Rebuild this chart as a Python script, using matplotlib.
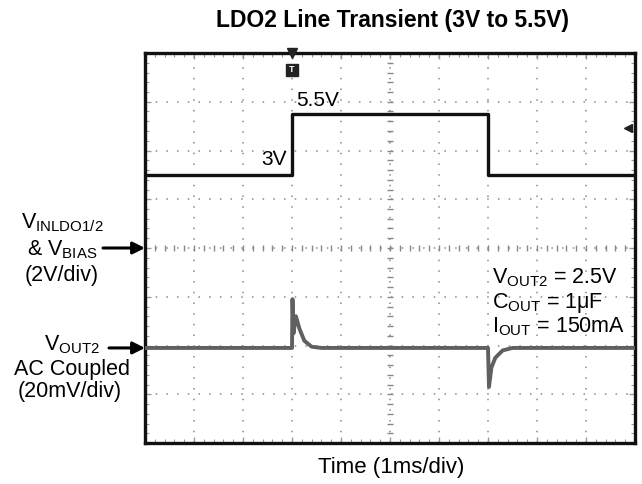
import matplotlib
matplotlib.use("Agg")
import matplotlib.pyplot as plt
import numpy as np

plt.rcParams['font.family'] = ['Liberation Sans', 'DejaVu Sans']
plt.rcParams['mathtext.fontset'] = 'custom'
plt.rcParams['mathtext.rm'] = 'Liberation Sans'
plt.rcParams['mathtext.it'] = 'Liberation Sans'
plt.rcParams['mathtext.bf'] = 'Liberation Sans:bold'

# ---- data (time in divisions of 1 ms) ----
vin_time = [0.0, 3.0, 3.0, 7.0, 7.0, 10.0]
vin_volts = [3.0, 3.0, 5.5, 5.5, 3.0, 3.0]          # 2 V/div, ground at centre
vout_time = [0.0, 3.0, 3.01, 3.03, 3.08, 3.15, 3.25, 3.4, 3.6,
             7.0, 7.02, 7.07, 7.15, 7.3, 7.5, 10.0]
vout_mv = [0.0, 0.0, 20.0, 6.0, 13.0, 8.0, 3.0, 0.5, 0.0,
           0.0, -16.0, -8.0, -4.0, -1.0, 0.0, 0.0]   # 20 mV/div, AC coupled
vin_ref_div = 4.0
vout_ref_div = 1.95
vin_scale = 2.0      # V/div
vout_scale = 20.0    # mV/div
trigger_time = 3.0
trigger_level_div = 6.46

W, H = 642, 484
fig = plt.figure(figsize=(W / 100, H / 100), dpi=100)
ax = fig.add_axes([145 / W, 1 - 443 / H, 490 / W, 390 / H])
ax.set_xlim(0, 10)
ax.set_ylim(0, 8)

# grid
for x in range(1, 10):
    ax.axvline(x, color='#8a8a8a', lw=1.1, ls=(0, (1, 6)), zorder=1)
for y in range(1, 8):
    ax.axhline(y, color='#8a8a8a', lw=1.1, ls=(0, (1, 6)), zorder=1)

# centre crosshair minor ticks
minor_y = np.arange(0, 8.01, 0.2)
minor_x = np.arange(0, 10.01, 0.2)
ax.plot(np.full_like(minor_y, 5.0), minor_y, ls='none', marker='_', ms=5,
        mew=1.0, color='#888888', zorder=1)
ax.plot(minor_x, np.full_like(minor_x, 4.0), ls='none', marker='|', ms=5,
        mew=1.0, color='#888888', zorder=1)

# frame ticks
ax.set_xticks(range(0, 11))
ax.set_yticks(range(0, 9))
ax.set_xticks(minor_x, minor=True)
ax.set_yticks(minor_y, minor=True)
ax.tick_params(which='both', direction='in', top=True, right=True,
               labelbottom=False, labelleft=False, color='#999999')
ax.tick_params(which='major', length=4, width=1)
ax.tick_params(which='minor', length=3, width=0.8)
for s in ax.spines.values():
    s.set_linewidth(2.4)
    s.set_color('#111111')

# traces
ax.plot(vin_time, [vin_ref_div + v / vin_scale for v in vin_volts],
        color='#111111', lw=2.4, zorder=3)
ax.plot(vout_time, [vout_ref_div + m / vout_scale for m in vout_mv],
        color='#606060', lw=2.8, zorder=3, solid_joinstyle='round')

# trigger markers
ax.plot([trigger_time], [8.0], marker='v', ms=7, color='#222222',
        clip_on=False, zorder=5)
ax.plot([trigger_time], [7.66], marker='s', ms=9, color='#222222', zorder=5)
ax.text(trigger_time, 7.66, 'T', color='white', fontsize=6.5,
        fontweight='bold', ha='center', va='center', zorder=6)
ax.plot([9.86], [trigger_level_div], marker='<', ms=6, color='#222222', zorder=5)

# level labels
ax.text(3.08, 7.02, '5.5V', fontsize=15, ha='left', va='center')
ax.text(2.9, 5.82, '3V', fontsize=15, ha='right', va='center')

# right annotations
fs = 15.5
ax.text(492 / W, 1 - 278 / H, r'V$_{\mathrm{OUT2}}$ = 2.5V', transform=fig.transFigure,
        fontsize=fs, ha='left', va='center')
ax.text(492 / W, 1 - 303 / H, r'C$_{\mathrm{OUT}}$ = 1μF', transform=fig.transFigure,
        fontsize=fs, ha='left', va='center')
ax.text(492 / W, 1 - 327 / H, r'I$_{\mathrm{OUT}}$ = 150mA', transform=fig.transFigure,
        fontsize=fs, ha='left', va='center')

# left labels
fig.text(62 / W, 1 - 223 / H, r'V$_{\mathrm{INLDO1/2}}$', fontsize=fs, ha='center', va='center')
fig.text(62 / W, 1 - 250 / H, r'& V$_{\mathrm{BIAS}}$', fontsize=fs, ha='center', va='center')
fig.text(62 / W, 1 - 275 / H, '(2V/div)', fontsize=fs, ha='center', va='center')
fig.text(72 / W, 1 - 345 / H, r'V$_{\mathrm{OUT2}}$', fontsize=fs, ha='center', va='center')
fig.text(72 / W, 1 - 369 / H, 'AC Coupled', fontsize=fs, ha='center', va='center')
fig.text(70 / W, 1 - 392 / H, '(20mV/div)', fontsize=fs, ha='center', va='center')

# arrows
arrow_kw = dict(arrowstyle='-|>', color='black', lw=2.2, mutation_scale=18,
                shrinkA=0, shrinkB=0)
ax.annotate('', xy=(0, vin_ref_div), xycoords='data',
            xytext=(-42, 0), textcoords='offset pixels',
            arrowprops=arrow_kw, annotation_clip=False)
ax.annotate('', xy=(0, vout_ref_div), xycoords='data',
            xytext=(-36, 0), textcoords='offset pixels',
            arrowprops=arrow_kw, annotation_clip=False)

# title and x label
fig.text(392 / W, 1 - 21 / H, 'LDO2 Line Transient (3V to 5.5V)', fontsize=16.5,
         fontweight='bold', ha='center', va='center')
fig.text(391 / W, 1 - 467 / H, 'Time (1ms/div)', fontsize=16, ha='center', va='center')

fig.savefig('out.png', dpi=100)
